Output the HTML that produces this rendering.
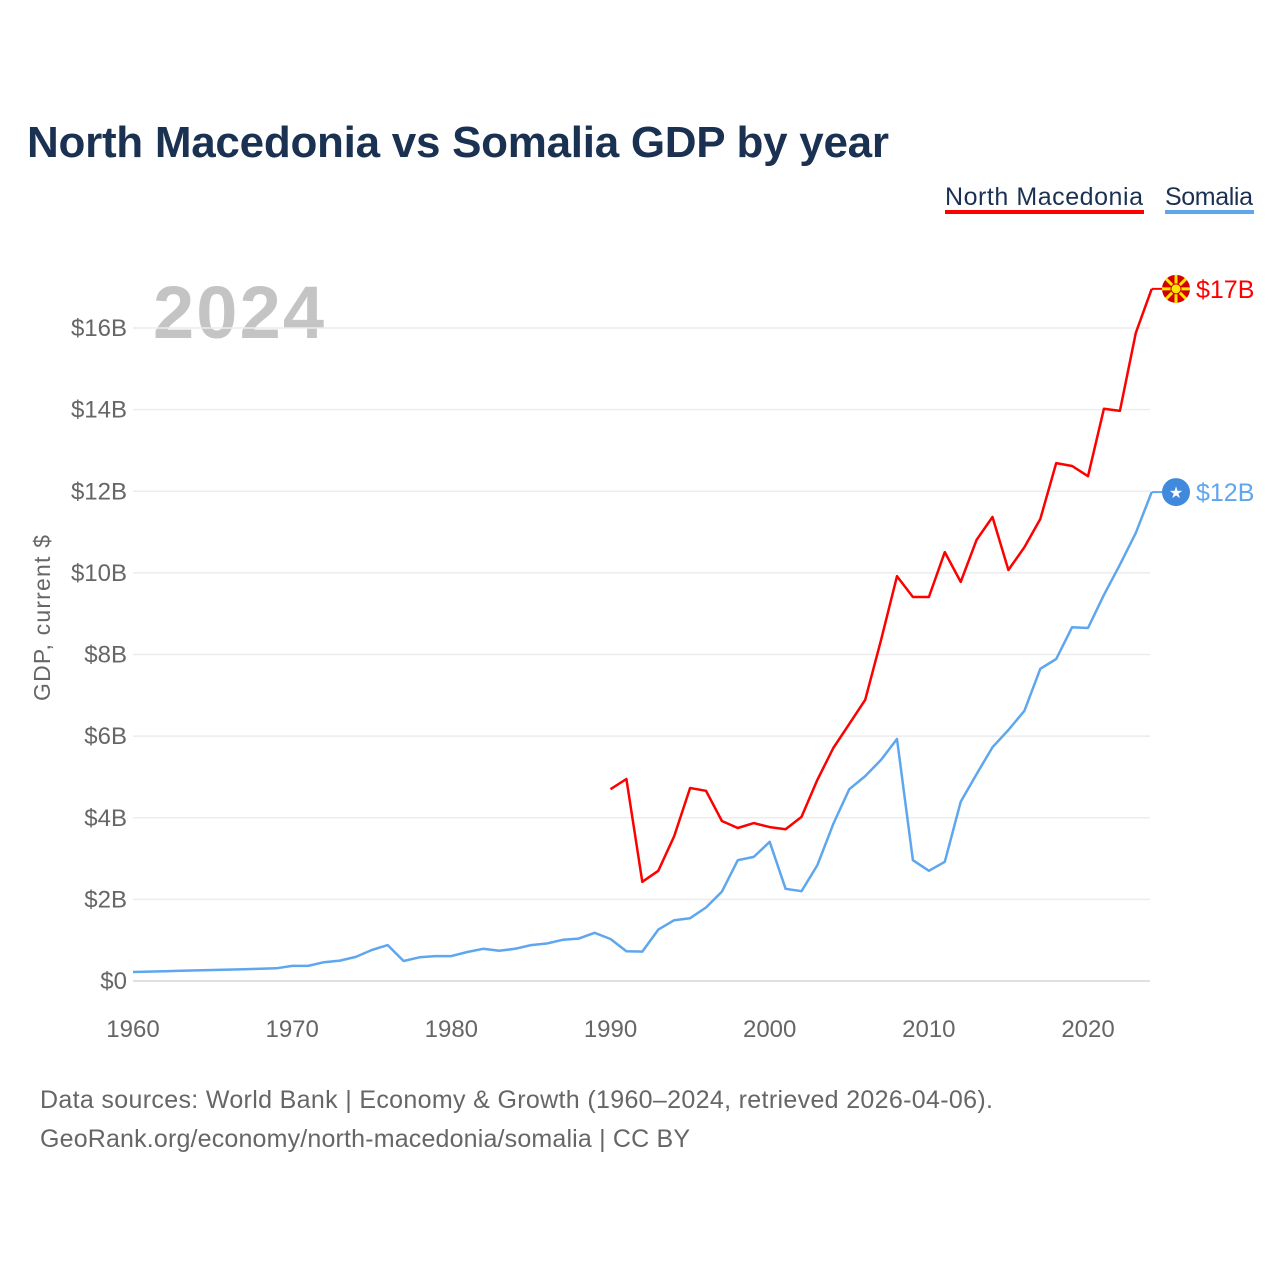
<!DOCTYPE html>
<html><head><meta charset="utf-8"><style>
body{margin:0;background:#fff;font-family:"Liberation Sans",sans-serif;}
svg text{font-family:"Liberation Sans",sans-serif;}
</style></head><body>
<svg id="chart" width="1280" height="1280" xmlns="http://www.w3.org/2000/svg">
<text x="27" y="157" font-size="44" font-weight="bold" fill="#1b3152" textLength="862">North Macedonia vs Somalia GDP by year</text>
<g>
<text x="945" y="205" font-size="25" fill="#1b3152" textLength="198">North Macedonia</text>
<rect x="945" y="210" width="199" height="4" fill="#ff0000"/>
</g>
<g>
<text x="1165" y="205" font-size="25" fill="#1b3152" textLength="88">Somalia</text>
<rect x="1165" y="210" width="89" height="4" fill="#5ea6ee"/>
</g>
<text x="153" y="338" font-size="74" font-weight="bold" fill="#c4c4c4" textLength="171">2024</text>
<text transform="translate(50,618) rotate(-90)" text-anchor="middle" font-size="23" fill="#666" textLength="166">GDP, current $</text>
<g id="grid"></g><g id="yticks"></g><g id="xticks"></g><g id="lines"></g>
<text x="40" y="1108" font-size="25" fill="#666" textLength="953">Data sources: World Bank | Economy &amp; Growth (1960–2024, retrieved 2026-04-06).</text>
<text x="40" y="1147" font-size="25" fill="#666" textLength="650">GeoRank.org/economy/north-macedonia/somalia | CC BY</text>
</svg>
<script>
const somaliaYears = [];
for (let y = 1960; y <= 2024; y++) somaliaYears.push(y);
const somaliaGdp = [0.22,0.23,0.24,0.25,0.26,0.27,0.28,0.29,0.30,0.31,0.37,0.37,0.46,0.50,0.59,0.76,0.88,0.49,0.58,0.61,0.61,0.71,0.79,0.74,0.79,0.88,0.92,1.01,1.04,1.18,1.03,0.73,0.72,1.26,1.49,1.54,1.80,2.19,2.96,3.04,3.41,2.26,2.20,2.84,3.85,4.70,5.02,5.42,5.93,2.96,2.70,2.92,4.39,5.07,5.73,6.15,6.62,7.65,7.89,8.67,8.65,9.46,10.20,10.98,11.98];
const macedoniaYears = [];
for (let y = 1990; y <= 2024; y++) macedoniaYears.push(y);
const macedoniaGdp = [4.70,4.95,2.43,2.70,3.55,4.73,4.66,3.92,3.75,3.87,3.77,3.72,4.02,4.93,5.71,6.30,6.89,8.36,9.92,9.41,9.41,10.51,9.78,10.81,11.37,10.07,10.63,11.32,12.69,12.62,12.37,14.02,13.97,15.88,16.96];
const yTickVals = [0,2,4,6,8,10,12,14,16];
const yTickLabels = ["$0","$2B","$4B","$6B","$8B","$10B","$12B","$14B","$16B"];
const xTickVals = [1960,1970,1980,1990,2000,2010,2020];

const NS = "http://www.w3.org/2000/svg";
const xs = yr => 133 + (yr - 1960) * 15.917;
const ys = v => 981 - v * 40.81;
function mk(tag, attrs, parent) {
  const e = document.createElementNS(NS, tag);
  for (const k in attrs) e.setAttribute(k, attrs[k]);
  parent.appendChild(e); return e;
}
const grid = document.getElementById('grid'), yt = document.getElementById('yticks'), xt = document.getElementById('xticks'), lines = document.getElementById('lines');
yTickVals.forEach((v, i) => {
  const l = mk('line', {x1:133, x2:1150, y1:ys(v), y2:ys(v), stroke: v===0?'#e0e0e0':'#ececec', 'stroke-width': v===0?2:1.5}, grid);
  
  
  const t = mk('text', {x:127, y:ys(v)+8, 'text-anchor':'end', 'font-size':24, fill:'#666'}, yt);
  t.textContent = yTickLabels[i];
  
  
});
xTickVals.forEach(v => {
  const t = mk('text', {x:xs(v), y:1037, 'text-anchor':'middle', 'font-size':24, fill:'#666'}, xt);
  t.textContent = v;
  
  
});
function series(years, vals, color, name, label, flag) {
  const d = years.map((y,i) => (i?'L':'M') + xs(y).toFixed(1) + ' ' + ys(vals[i]).toFixed(1)).join(' ');
  const p = mk('path', {d: d, fill:'none', stroke: color, 'stroke-width': 2.5, 'stroke-linejoin':'round'}, lines);
  
  
  const lx = xs(years[years.length-1]), ly = ys(vals[vals.length-1]);
  mk('line', {x1:lx, x2:lx+12, y1:ly, y2:ly, stroke:color, 'stroke-width':2}, lines);
  const g = mk('g', {}, lines);
  
  
  if (flag === 'mk') {
    mk('circle', {cx:1176, cy:ly, r:14, fill:'#d20000'}, g);
    for (let a = 0; a < 8; a++) {
      const ang = a * Math.PI / 4;
      mk('line', {x1:1176, y1:ly, x2:1176+14*Math.cos(ang), y2:ly+14*Math.sin(ang), stroke:'#ffe600', 'stroke-width':3}, g);
    }
    mk('circle', {cx:1176, cy:ly, r:5, fill:'#ffe600', stroke:'#d20000', 'stroke-width':1}, g);
  } else {
    mk('circle', {cx:1176, cy:ly, r:14, fill:'#4189dd'}, g);
    const s = mk('text', {x:1176, y:ly+6, 'text-anchor':'middle', 'font-size':16, fill:'#fff'}, g);
    s.textContent = '★';
  }
  const t = mk('text', {x:1196, y:ly+9, 'font-size':25, fill:color}, lines);
  t.textContent = label;
  
  
}
series(somaliaYears, somaliaGdp, '#5ea6ee', 'somalia', '$12B', 'so');
series(macedoniaYears, macedoniaGdp, '#ff0000', 'north-macedonia', '$17B', 'mk');
</script>
</body></html>
